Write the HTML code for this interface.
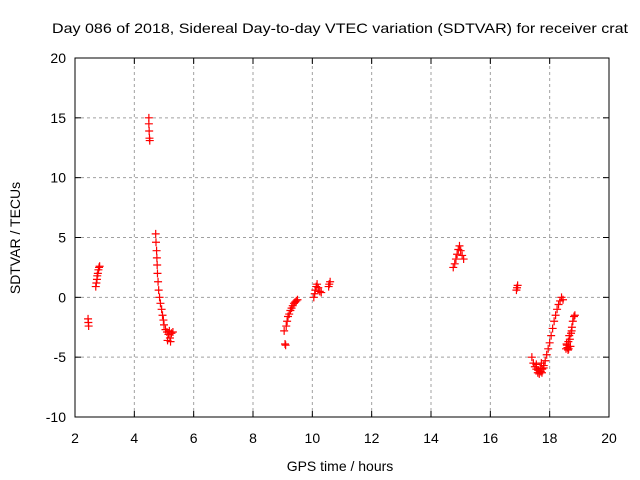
<!DOCTYPE html>
<html><head><meta charset="utf-8"><style>
html,body{margin:0;padding:0;background:#fff;}
svg{display:block;font-family:"Liberation Sans",sans-serif;}
</style></head><body>
<svg id="chart" width="640" height="480">
<text x="52" y="33" font-size="14" textLength="576" lengthAdjust="spacingAndGlyphs">Day 086 of 2018, Sidereal Day-to-day VTEC variation (SDTVAR) for receiver crat</text>
<text x="340" y="471" text-anchor="middle" font-size="14">GPS time / hours</text>
<text transform="translate(20,238) rotate(-90)" text-anchor="middle" font-size="14">SDTVAR / TECUs</text>
<g id="grid"></g>
<g id="ticks"></g>
<g id="marks"></g>
<rect x="75" y="58" width="534" height="359" fill="none" stroke="#000" stroke-width="1"/>
</svg>
<script>
const xTicks=[2,4,6,8,10,12,14,16,18,20];
const yTicks=[-10,-5,0,5,10,15,20];
const gpsHours=[2.44,2.45,2.46,
2.70,2.72,2.74,2.75,2.77,2.79,2.81,2.83,
4.49,4.49,4.50,4.51,4.52,
4.72,4.73,4.75,4.76,4.77,4.78,4.80,4.82,4.85,4.88,4.92,4.95,4.98,5.00,5.05,5.10,5.15,5.20,5.22,5.25,5.30,5.12,5.18,
9.05,9.08,9.10,9.12,9.15,9.18,9.22,9.26,9.30,9.34,9.38,9.42,9.46,9.50,
10.05,10.08,10.10,10.13,10.16,10.20,10.25,10.30,10.55,10.57,10.60,
14.75,14.80,14.84,14.88,14.92,14.96,15.00,15.05,15.10,
16.88,16.90,16.92,
17.40,17.45,17.50,17.55,17.60,17.65,17.70,17.75,17.80,17.85,17.90,17.95,18.00,18.05,18.10,18.15,18.20,18.25,18.30,18.35,18.40,18.45,
17.55,17.62,17.68,17.74,17.80,17.72,
18.55,18.58,18.60,18.63,18.66,18.70,18.72,18.75,18.78,18.82,18.85,
18.57,18.62,18.68,18.74,18.64];
const sdtvar=[-1.8,-2.1,-2.4,
0.9,1.2,1.5,1.8,2.0,2.3,2.5,2.6,
15.0,14.5,13.9,13.3,13.1,
5.3,4.6,3.9,3.3,2.7,2.0,1.3,0.6,0.0,-0.5,-1.0,-1.5,-1.9,-2.3,-2.7,-2.9,-3.1,-3.4,-3.7,-3.0,-2.9,-3.6,-2.8,
-2.8,-3.9,-4.0,-2.4,-2.0,-1.6,-1.4,-1.1,-0.9,-0.7,-0.5,-0.4,-0.3,-0.2,
0.0,0.3,0.6,0.9,1.1,0.8,0.5,0.4,0.9,1.1,1.3,
2.5,2.8,3.2,3.6,4.0,4.3,3.9,3.5,3.2,
0.6,0.8,1.0,
-5.0,-5.5,-5.8,-6.0,-6.3,-6.4,-6.2,-6.0,-5.7,-5.3,-4.8,-4.3,-3.8,-3.2,-2.6,-2.0,-1.5,-1.0,-0.6,-0.3,0.0,-0.2,
-5.6,-6.1,-5.9,-6.3,-5.9,-5.5,
-4.3,-4.0,-4.2,-3.7,-3.2,-4.1,-3.0,-2.5,-2.0,-1.6,-1.5,
-3.9,-4.4,-3.5,-2.8,-4.3];
const X0=75,X1=609,Y0=417,Y1=58;
const xs=v=>X0+(v-2)/18*(X1-X0);
const ys=v=>Y0-(v+10)/30*(Y0-Y1);
const NS="http://www.w3.org/2000/svg";
const grid=document.getElementById('grid'),ticks=document.getElementById('ticks'),marks=document.getElementById('marks');
function mk(tag,attrs,parent){const e=document.createElementNS(NS,tag);for(const k in attrs)e.setAttribute(k,attrs[k]);parent.appendChild(e);return e;}
xTicks.forEach(t=>{const x=xs(t);
 if(t>2&&t<20){const g=mk('line',{x1:x,x2:x,y1:Y0,y2:Y1,stroke:'#a0a0a0','stroke-dasharray':'3,3'},grid);}
 const l=mk('line',{x1:x,x2:x,y1:Y0,y2:Y0-6,stroke:'#000'},ticks);
 const l2=mk('line',{x1:x,x2:x,y1:Y1,y2:Y1+6,stroke:'#000'},ticks);
 const tx=mk('text',{x:x,y:Y0+26,'text-anchor':'middle','font-size':'14'},ticks);tx.textContent=t;});
yTicks.forEach(t=>{const y=ys(t);
 if(t>-10&&t<20){const g=mk('line',{x1:X0,x2:X1,y1:y,y2:y,stroke:'#a0a0a0','stroke-dasharray':'3,3'},grid);}
 const l=mk('line',{x1:X0,x2:X0+6,y1:y,y2:y,stroke:'#000'},ticks);
 const l2=mk('line',{x1:X1,x2:X1-6,y1:y,y2:y,stroke:'#000'},ticks);
 const tx=mk('text',{x:X0-9,y:y+5,'text-anchor':'end','font-size':'14'},ticks);tx.textContent=t;});
gpsHours.forEach((h,i)=>{const x=xs(h),y=ys(sdtvar[i]);
 const p=mk('path',{d:`M${x-4},${y}H${x+4}M${x},${y-4}V${y+4}`,stroke:'#f00','stroke-width':'1.2',fill:'none'},marks);
 
 });
</script>
</body></html>
